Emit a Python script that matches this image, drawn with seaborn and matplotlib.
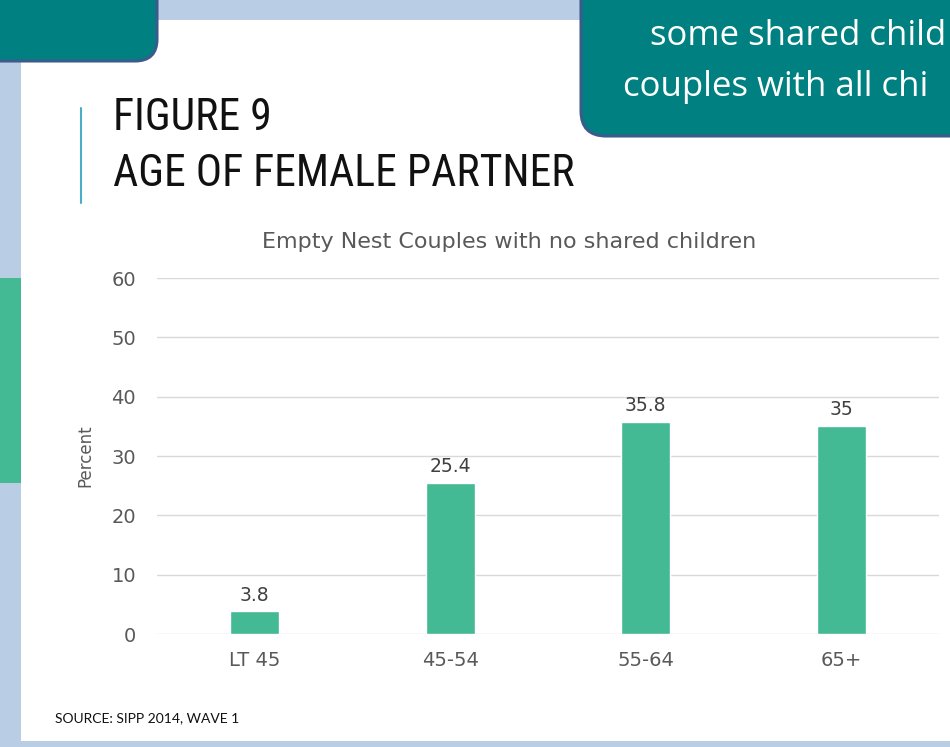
import matplotlib
matplotlib.use("Agg")
import matplotlib.pyplot as plt
from matplotlib.patches import Rectangle, FancyBboxPatch
import seaborn as sns
import pandas as pd

# data
age_groups = ["LT 45", "45-54", "55-64", "65+"]
percent = [3.8, 25.4, 35.8, 35]
y_ticks = [0, 10, 20, 30, 40, 50, 60]

bar_color = "#43b994"
text_grey = "#595959"

sns.set_theme(style="white")
plt.rcParams["font.family"] = ["DejaVu Sans"]

df = pd.DataFrame({"age": age_groups, "percent": percent})

fig = plt.figure(figsize=(9.5, 7.47), dpi=100, facecolor="#b9cde5")
inch = fig.dpi_scale_trans

def px(x, y):
    # pixel position (top-left origin) to inches
    return x / 100, (747 - y) / 100

# white slide area
x0, y0 = px(21, 741)
fig.add_artist(Rectangle((x0, y0), 9.5, 7.21, transform=inch, facecolor="white",
                         edgecolor="none", zorder=0))

# left green strip
x0, y0 = px(0, 483)
fig.add_artist(Rectangle((x0, y0), 0.21, 2.05, transform=inch, facecolor=bar_color,
                         edgecolor="none", zorder=1))

# top-left teal box
x0, y0 = px(-40, 61)
fig.add_artist(FancyBboxPatch((x0, y0), 1.97, 1.2, transform=inch,
                              boxstyle="round,pad=0,rounding_size=0.22",
                              facecolor="#008080", edgecolor="#3b5b8c", lw=2.2, zorder=2))

# top-right teal box with callout text (cut by the slide edge)
x0, y0 = px(581, 136)
fig.add_artist(FancyBboxPatch((x0, y0), 4.5, 2.0, transform=inch,
                              boxstyle="round,pad=0,rounding_size=0.25",
                              facecolor="#008080", edgecolor="#3b5b8c", lw=2.2, zorder=2))
callout_font = ["Open Sans", "DejaVu Sans"]
fig.text(650 / 950, 1 - 45 / 747, "some shared child", color="white", fontsize=25,
         family=callout_font, va="baseline", zorder=3)
fig.text(623 / 950, 1 - 96 / 747, "couples with all chi", color="white", fontsize=25,
         family=callout_font, va="baseline", zorder=3)

# title with accent line
fig.add_artist(plt.Line2D([81 / 950, 81 / 950], [1 - 203 / 747, 1 - 108 / 747],
                          color="#4bacc6", lw=1.5, zorder=3))
title_font = ["Roboto Condensed", "Liberation Sans Narrow", "Roboto", "DejaVu Sans"]
fig.text(113 / 950, 1 - 130 / 747, "FIGURE 9", fontsize=31.5, family=title_font,
         fontstretch="condensed", color="#111111", va="baseline")
fig.text(113 / 950, 1 - 186 / 747, "AGE OF FEMALE PARTNER", fontsize=31.5, family=title_font,
         fontstretch="condensed", color="#111111", va="baseline")

# chart
ax = fig.add_axes([157 / 950, 1 - 634 / 747, 782 / 950, 356 / 747])
ax.set_facecolor("none")
sns.barplot(data=df, x="age", y="percent", color=bar_color, width=0.25,
            saturation=1, ax=ax, zorder=3)
ax.bar_label(ax.containers[0], labels=[f"{v:g}" for v in percent], padding=5,
             fontsize=13.5, color="#404040")

ax.set_ylim(0, 60)
ax.set_xlim(-0.5, 3.5)
ax.set_yticks(y_ticks)
ax.grid(axis="y", color="#d9d9d9", lw=1, zorder=0)
ax.grid(axis="x", visible=False)
sns.despine(ax=ax, left=True, bottom=True)
ax.tick_params(axis="y", length=0, pad=15, labelsize=14, labelcolor=text_grey)
ax.tick_params(axis="x", length=0, pad=12, labelsize=14, labelcolor=text_grey)
ax.set_xlabel("")
ax.set_ylabel("Percent", fontsize=12, color=text_grey)
ax.yaxis.set_label_coords(-0.08, 0.5)

fig.text(509 / 950, 1 - 242 / 747, "Empty Nest Couples with no shared children",
         fontsize=16, color=text_grey, ha="center", va="center")

fig.text(55 / 950, 1 - 718 / 747, "SOURCE: SIPP 2014, WAVE 1", fontsize=10,
         family=["Lato", "DejaVu Sans"], color="#111111", va="center")

fig.savefig("out.png", dpi=100, facecolor=fig.get_facecolor())
